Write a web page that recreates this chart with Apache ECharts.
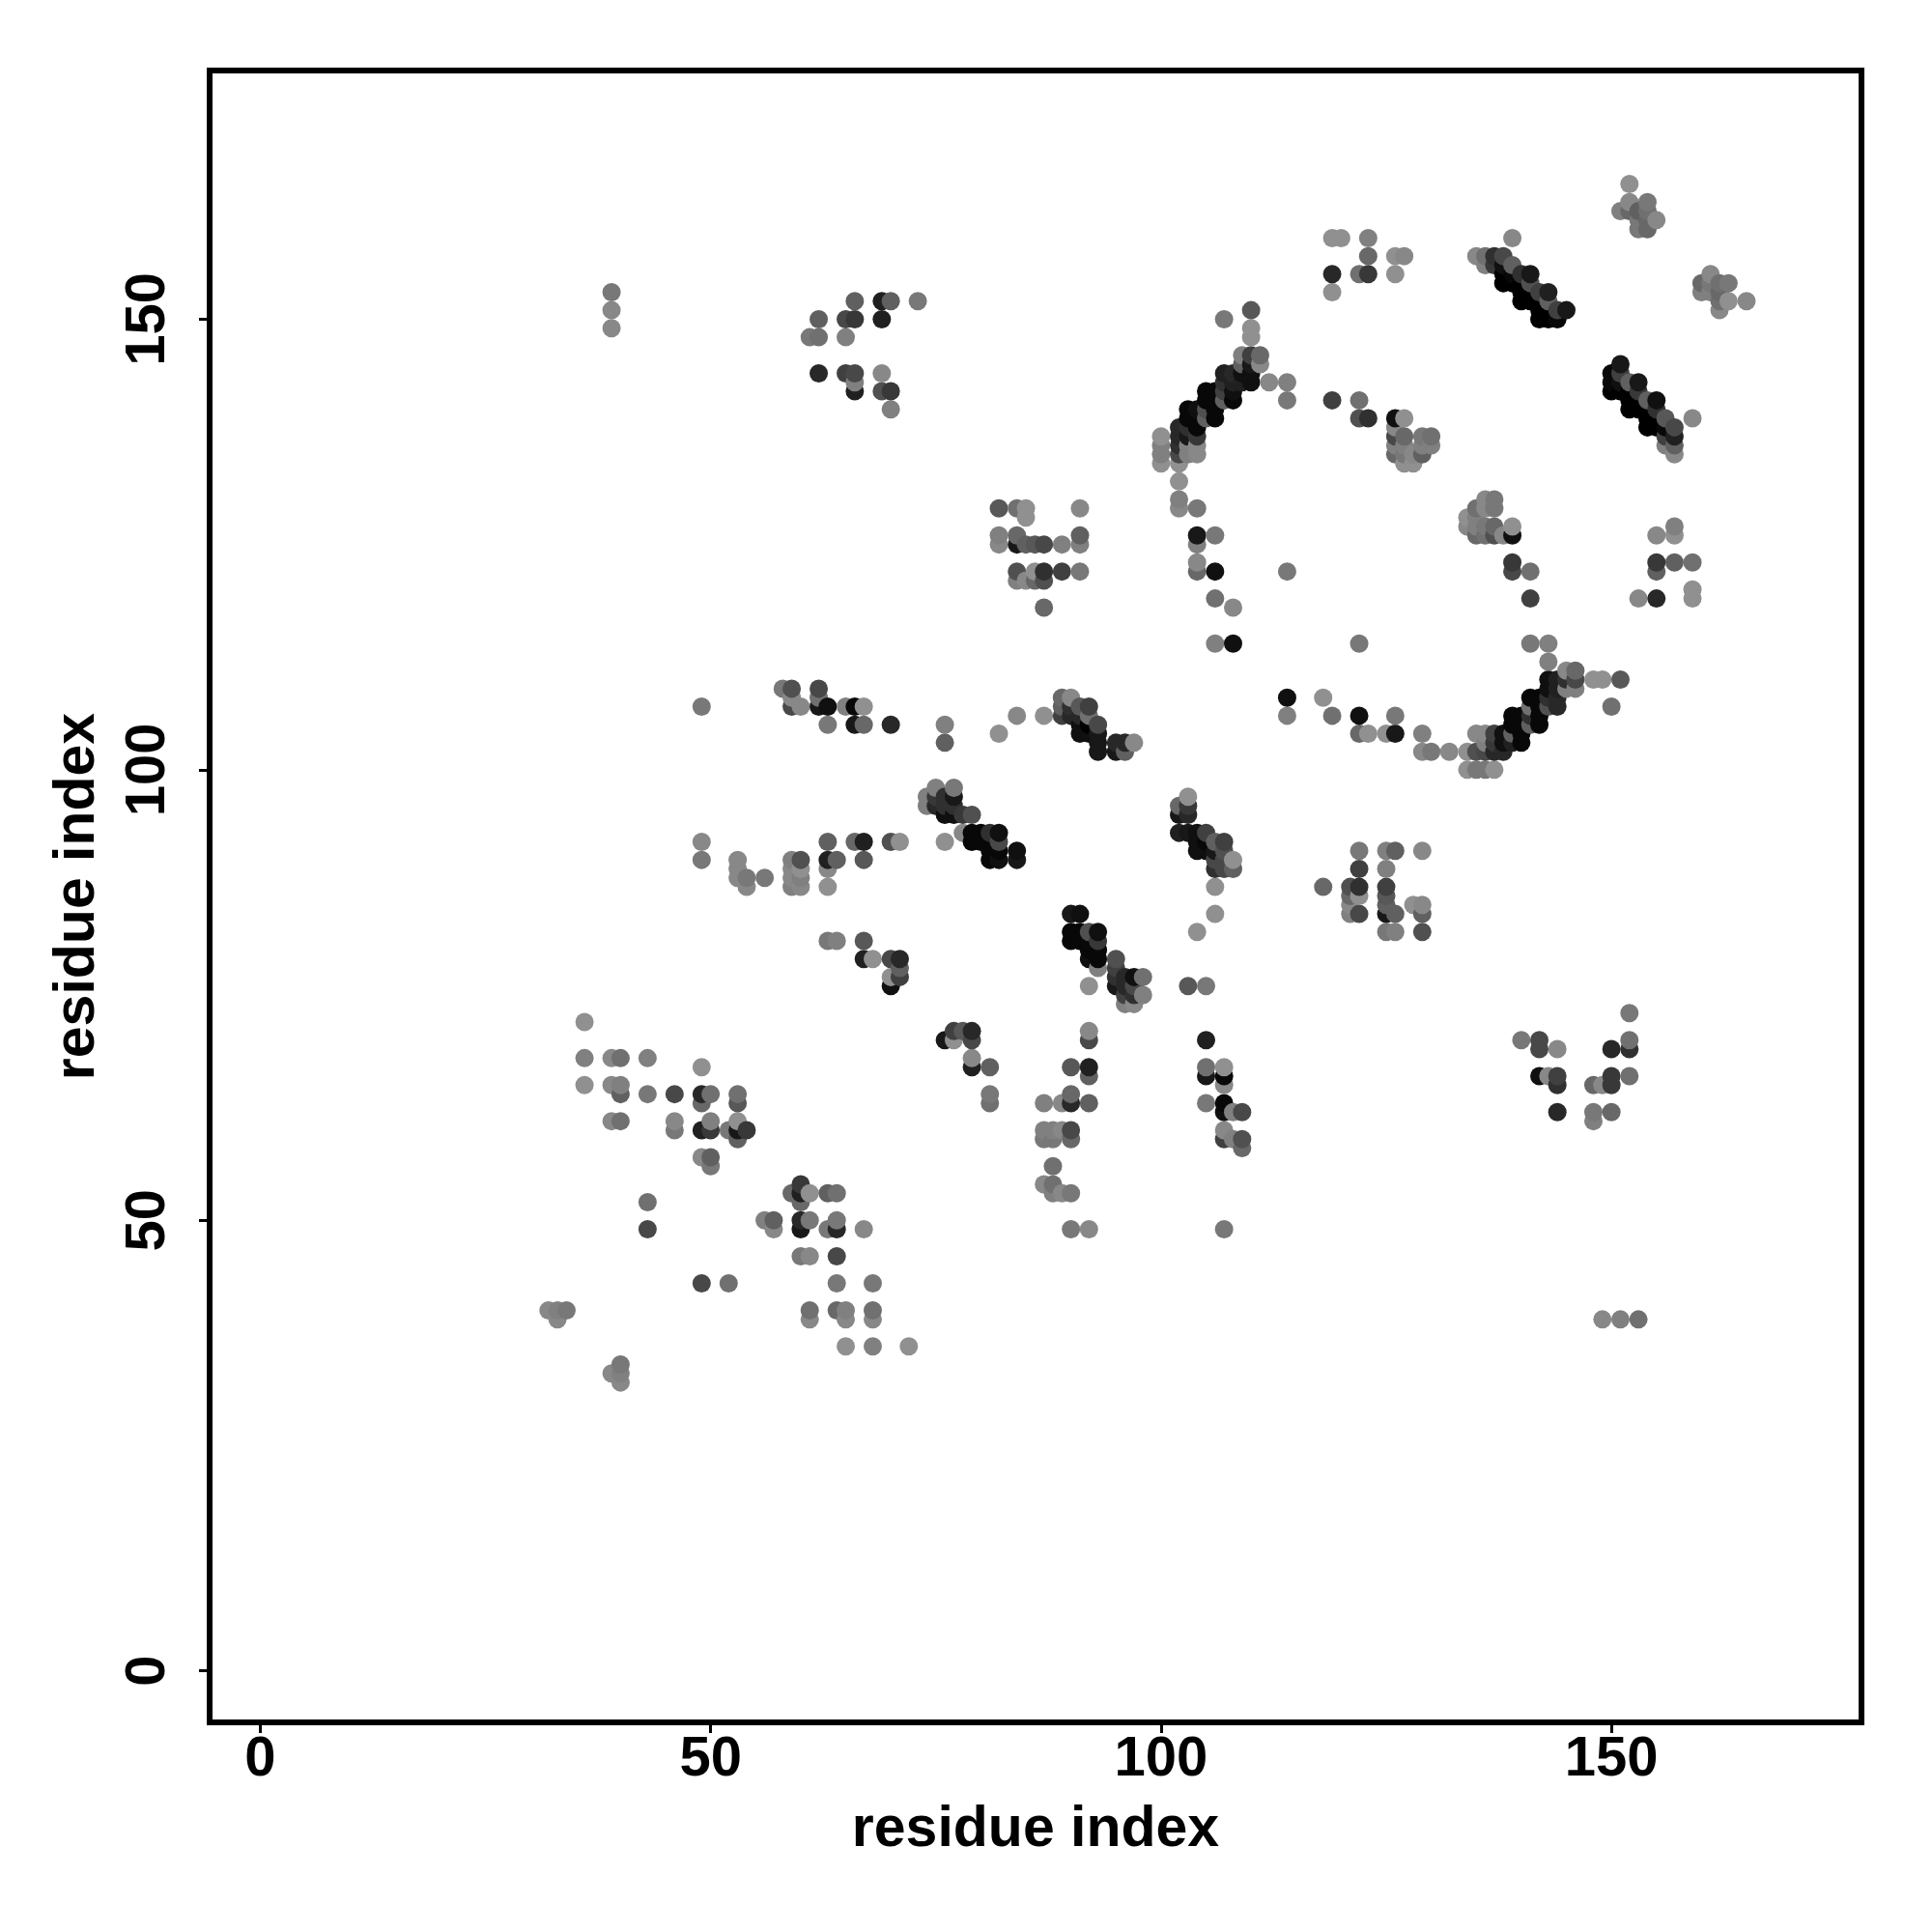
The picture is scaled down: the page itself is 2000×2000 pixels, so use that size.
<!DOCTYPE html>
<html>
<head>
<meta charset="utf-8">
<style>html,body{margin:0;padding:0;background:#fff}#c{width:2000px;height:2000px}</style>
<script src="https://cdn.jsdelivr.net/npm/echarts@6/dist/echarts.min.js"></script>
</head>
<body>
<div id="c"></div>
<script>
// Contacts as [residue i, residue j, strength 0 (weak) .. 18 (strong)]
const tickValues = [0, 50, 100, 150];
const axisTitle = 'residue index';

const farLeftTop = [[39,153,3],[39,151,1],[39,149,1]];
const upperLeftBlock = [[66,152,6],[69,152,14],[70,152,6],[73,152,3],[62,150,6],[65,150,9],[66,150,11],[69,150,14],[61,148,3],[62,148,4],[65,148,2],[62,144,13],[65,144,10],[66,144,9],[69,144,1],[66,143,2],[66,142,14],[69,142,8],[70,142,11],[70,140,2]];
const topMiddle = [[119,159,0],[120,159,0],[123,159,2],[123,157,5],[126,157,0],[127,157,1],[119,155,13],[119,153,0],[122,155,4],[123,155,11],[126,155,0]];
const helixA = [[110,151,7],[107,150,3],[110,149,0],[110,148,0],[109,146,2],[110,146,10],[111,146,5],[111,145,1],[109,145,6],[110,145,15],[107,144,14],[108,144,13],[109,144,16],[110,144,16],[107,143,12],[108,143,14],[109,143,14],[110,143,16],[105,142,17],[106,142,17],[107,142,10],[108,142,16],[105,141,17],[106,141,17],[107,141,6],[108,141,17],[103,140,17],[104,140,16],[105,140,8],[106,140,17],[103,139,17],[104,139,17],[105,139,6],[106,139,17],[102,138,13],[103,138,12],[104,138,17],[102,137,13],[103,137,15],[104,137,11],[102,136,12],[103,136,2],[104,136,1],[102,135,9],[103,135,2],[104,135,1],[100,137,0],[100,136,2],[100,135,2],[100,134,0],[102,134,0],[102,132,0],[102,130,2],[102,129,1],[104,129,3]];
const beyondHelixA = [[112,143,1],[114,143,2],[114,141,3],[119,141,10],[122,141,4],[122,139,8],[123,139,12]];
const cluster126 = [[126,139,16],[127,139,0],[126,138,1],[126,137,9],[127,137,5],[129,137,3],[130,137,4],[126,136,2],[127,136,2],[129,136,2],[130,136,2],[126,135,5],[127,135,3],[128,135,1],[129,135,6],[127,134,0],[128,134,0]];
const corner152 = [[152,165,0],[152,163,1],[154,163,3],[151,162,2],[152,162,5],[153,162,6],[154,162,4],[155,161,1],[154,161,5],[153,161,3],[153,160,3],[154,160,5]];
const corner162 = [[161,155,1],[160,154,5],[162,154,4],[163,154,3],[161,154,3],[160,153,2],[161,153,2],[162,153,5],[163,152,0],[165,152,1],[162,152,4],[162,151,1]];
const helixB = [[139,159,1],[135,157,1],[136,157,4],[137,157,12],[138,157,9],[136,156,2],[137,156,11],[138,156,16],[139,156,6],[138,155,18],[139,155,17],[140,155,12],[141,155,15],[138,154,18],[139,154,18],[140,154,18],[141,154,8],[140,153,18],[141,153,18],[142,153,10],[143,153,14],[140,152,18],[141,152,18],[142,152,18],[143,152,6],[142,151,18],[143,151,18],[144,151,10],[145,151,15],[142,150,18],[143,150,18],[144,150,17]];
const helixC = [[151,145,15],[150,144,17],[151,144,10],[150,143,17],[151,143,16],[152,143,6],[153,143,15],[150,142,18],[151,142,18],[152,142,18],[153,142,11],[152,141,18],[153,141,18],[154,141,6],[155,141,16],[152,140,18],[153,140,18],[154,140,18],[155,140,12],[154,139,18],[155,139,18],[156,139,7],[159,139,1],[154,138,18],[155,138,18],[156,138,17],[157,138,9],[156,137,10],[157,137,14],[156,136,2],[157,136,6],[157,135,1]];
const block84 = [[82,129,7],[84,129,4],[85,129,0],[85,128,0],[91,129,1],[82,126,2],[84,126,5],[91,126,6],[82,125,1],[84,125,15],[85,125,6],[86,125,7],[87,125,9],[89,125,2],[91,125,2],[84,122,8],[86,122,0],[87,122,12],[89,122,10],[91,122,3],[84,121,2],[85,121,1],[86,121,5],[87,121,8],[87,118,5]];
const column104 = [[104,126,15],[106,126,3],[104,125,2],[104,123,1],[104,122,5],[106,122,16],[114,122,3],[106,119,4],[108,118,1],[106,114,2],[108,114,16]];
const helixD = [[82,104,0],[84,106,1],[87,106,0],[89,108,5],[90,108,1],[89,107,6],[89,106,10],[90,107,12],[90,106,13],[91,107,7],[92,107,10],[91,106,13],[92,106,4],[93,105,9],[91,105,16],[92,105,18],[91,104,16],[92,104,16],[93,104,15],[93,103,15],[93,102,15],[95,103,13],[96,103,13],[97,103,1],[95,102,15],[96,102,6]];
const block136 = [[136,130,1],[137,130,3],[135,129,4],[136,129,1],[137,129,3],[134,128,0],[135,128,2],[134,127,1],[135,127,2],[136,127,3],[137,127,5],[139,127,0],[135,126,5],[136,126,4],[137,126,8],[138,126,1],[139,126,16],[139,123,11],[139,122,9],[141,122,4],[141,119,10]];
const block155 = [[157,127,2],[155,126,1],[157,126,0],[155,123,11],[157,123,6],[159,123,4],[155,122,6],[159,120,0],[159,119,0],[153,119,1],[155,119,13]];
const arcLeft = [[122,114,3],[114,108,16],[118,108,0],[114,106,2],[119,106,4],[122,106,16],[126,106,3],[122,104,5],[123,104,0],[125,104,0],[126,104,15],[129,104,2],[129,102,1],[130,102,3],[132,102,1],[134,102,0]];
const helixE = [[135,104,1],[136,104,1],[137,104,10],[138,104,16],[134,100,0],[135,100,3],[136,100,3],[137,100,0],[135,102,8],[136,102,9],[136,103,2],[137,103,11],[138,103,16],[137,102,13],[138,102,13],[139,106,17],[140,106,17],[139,105,17],[140,105,17],[141,108,17],[142,108,17],[141,107,4],[142,107,17],[143,107,8],[144,107,13],[141,106,12],[142,106,17],[141,105,6],[142,105,17],[139,104,6],[140,104,17],[139,103,14],[140,103,17],[141,114,3],[143,114,2],[143,112,2],[143,110,16],[144,110,14],[145,110,12],[146,110,9],[143,109,16],[144,109,14],[145,109,2],[146,109,2],[143,108,12],[144,108,13],[145,111,1],[146,111,5],[148,110,0],[149,110,0],[151,110,7],[150,107,4]];
const row107 = [[49,107,3],[58,109,3],[59,109,8],[62,109,9],[59,108,1],[62,108,4],[59,107,9],[60,107,1],[62,107,15],[63,107,16],[65,107,2],[66,107,17],[67,107,0],[63,105,3],[66,105,15],[67,105,5],[70,105,13],[76,105,2],[76,103,6]];
const helixF = [[75,98,2],[77,98,3],[74,97,2],[75,97,11],[76,97,12],[77,97,15],[74,96,2],[75,96,13],[76,96,12],[77,96,12],[76,95,16],[77,95,16],[78,95,11],[79,95,8],[78,93,1],[79,93,17],[80,93,17],[81,93,12],[82,93,16],[79,92,17],[80,92,17],[81,92,17],[82,92,9],[76,92,0],[81,91,17],[82,91,17],[84,91,16],[81,90,17],[82,90,16],[84,90,15]];
const row90 = [[49,92,1],[49,90,3],[53,90,1],[53,89,1],[53,88,1],[54,88,3],[56,88,3],[54,87,1],[63,92,6],[66,92,5],[67,92,14],[70,92,8],[71,92,0],[59,90,2],[60,90,8],[63,90,14],[64,90,6],[67,90,7],[59,89,1],[60,89,0],[63,89,1],[59,88,1],[60,88,2],[59,87,2],[60,87,1],[63,87,0]];
const row79 = [[63,81,3],[64,81,2],[67,81,7],[67,79,14],[68,79,0],[70,79,9],[71,79,13],[71,78,6],[70,77,0],[71,77,10],[70,76,16]];
const helixG = [[90,84,15],[91,84,16],[90,82,17],[91,82,17],[92,82,8],[93,82,16],[90,81,17],[91,81,17],[92,81,17],[93,81,11],[92,80,17],[93,80,17],[92,79,16],[93,79,17],[93,78,2],[95,79,8],[95,78,10],[96,77,13],[97,77,16],[98,77,4],[95,77,12],[95,76,15],[96,76,13],[97,76,9],[92,76,0],[96,75,10],[97,75,12],[98,75,2],[96,74,2],[97,74,1],[103,76,7],[105,76,3],[106,87,0],[106,84,0],[104,82,0]];
const block77 = [[76,70,15],[77,71,10],[78,71,7],[79,71,13],[77,70,0],[79,70,9],[79,68,1],[79,67,14],[81,67,6],[81,64,3],[81,63,4]];
const block40 = [[36,72,0],[36,68,2],[39,68,1],[40,68,4],[43,68,2],[49,67,0],[36,65,0],[39,65,1],[40,65,2],[40,64,6],[43,64,3],[46,64,9],[49,64,13],[50,64,4],[53,64,4],[49,63,5],[53,63,7],[39,61,1],[40,61,4],[46,61,1],[50,61,2],[53,61,0],[46,60,3],[49,60,14],[50,60,11],[52,60,3],[53,60,15],[54,60,11],[53,59,6],[49,57,1],[50,57,6],[50,56,3]];
const block60 = [[43,52,4],[43,49,9],[60,54,11],[59,53,5],[60,53,14],[61,53,0],[63,53,6],[64,53,4],[60,52,5],[56,50,2],[57,50,6],[60,50,13],[61,50,3],[64,50,3],[57,49,1],[60,49,15],[63,49,3],[64,49,13],[67,49,1],[60,46,3],[61,46,1],[64,46,9],[49,43,9],[52,43,4],[64,43,3],[68,43,3],[32,40,1],[33,40,2],[34,40,3],[33,39,1],[61,40,4],[64,40,5],[65,40,2],[68,40,4],[61,39,1],[65,39,1],[68,39,1],[65,36,0],[68,36,2],[72,36,0],[40,34,3],[39,33,1],[40,33,2],[40,32,1]];
const column90 = [[92,71,1],[92,70,9],[90,67,7],[92,67,14],[92,66,6],[87,63,2],[89,63,1],[90,64,5],[90,63,13],[92,63,6],[87,60,2],[88,60,2],[89,60,1],[90,60,9],[87,59,3],[88,59,3],[90,59,5],[88,56,4],[87,54,1],[88,54,4],[88,53,2],[89,53,1],[90,53,3],[90,49,3],[92,49,1]];
const column107 = [[105,70,14],[105,67,4],[107,67,0],[105,66,15],[107,66,17],[107,65,1],[105,63,3],[107,63,17],[107,62,16],[108,62,2],[109,62,9],[107,60,1],[107,59,10],[108,59,2],[109,59,8],[109,58,5],[107,49,3]];
const helixH = [[103,97,0],[102,96,5],[103,96,11],[102,95,15],[103,95,13],[102,93,14],[103,93,15],[104,93,16],[105,93,10],[104,92,16],[105,92,17],[106,92,6],[107,92,10],[104,91,16],[105,91,16],[106,91,15],[107,91,8],[106,90,9],[107,90,9],[108,90,0],[106,89,12],[107,89,9],[108,89,6]];
const block122 = [[122,91,3],[125,91,2],[126,91,6],[129,91,1],[122,89,10],[125,89,2],[118,87,5],[121,87,8],[122,87,12],[125,87,10],[121,86,5],[122,86,0],[125,86,7],[121,85,1],[125,85,6],[128,85,0],[129,85,1],[121,84,2],[122,84,9],[125,84,15],[126,84,6],[129,84,6],[125,82,3],[126,82,2],[129,82,8]];
const block145 = [[152,73,3],[140,70,3],[142,70,9],[152,70,4],[142,69,9],[144,69,1],[150,69,13],[152,69,12],[142,66,16],[143,66,1],[144,66,10],[150,66,11],[152,66,4],[144,65,12],[148,65,5],[149,65,1],[150,65,11],[144,62,13],[148,62,3],[150,62,5],[148,61,2],[149,39,1],[151,39,2],[153,39,4]];

const contacts = [].concat(
  farLeftTop, upperLeftBlock, topMiddle, helixA, beyondHelixA, cluster126, corner152, corner162,
  helixB, helixC, block84, column104, helixD, block136, block155, arcLeft, helixE, row107, helixF,
  row90, row79, helixG, block77, block40, block60, column90, column107, helixH, block122, block145
).sort((a, b) => a[0] - b[0] || a[1] - b[1]);

const font = '"Liberation Sans", Arial, sans-serif';
const chart = echarts.init(document.getElementById('c'), null, { renderer: 'canvas', width: 2000, height: 2000 });
function axis(extra) {
  return Object.assign({
    type: 'value',
    name: axisTitle,
    nameLocation: 'middle',
    nameTextStyle: { fontFamily: font, fontWeight: 'bold', fontSize: 59, color: '#000' },
    splitLine: { show: false },
    axisLine: { show: false, onZero: false },
    axisTick: { show: true, length: 11, customValues: tickValues, lineStyle: { color: '#000', width: 3 } }
  }, extra);
}
chart.setOption({
  animation: false,
  backgroundColor: '#fff',
  grid: { left: 217, top: 73, width: 1710, height: 1710, show: true, borderColor: '#000', borderWidth: 6, backgroundColor: '#fff' },
  xAxis: axis({
    min: -5.62, max: 177.76, nameGap: 82,
    axisLabel: { customValues: tickValues, margin: 10, fontFamily: font, fontWeight: 'bold', fontSize: 58, color: '#000' }
  }),
  yAxis: axis({
    min: -5.72, max: 177.6, nameGap: 107,
    axisLabel: { customValues: tickValues, rotate: 90, margin: 34, fontFamily: font, fontWeight: 'bold', fontSize: 58, color: '#000' }
  }),
  visualMap: { show: false, type: 'continuous', dimension: 2, min: 0, max: 18, seriesIndex: 0, inRange: { color: ['#909090', '#000000'] } },
  series: [{
    type: 'scatter',
    data: contacts,
    symbol: 'circle',
    symbolSize: 19,
    silent: true,
    progressive: 0,
    large: false,
    itemStyle: { opacity: 1 }
  }]
});
</script>
</body>
</html>
